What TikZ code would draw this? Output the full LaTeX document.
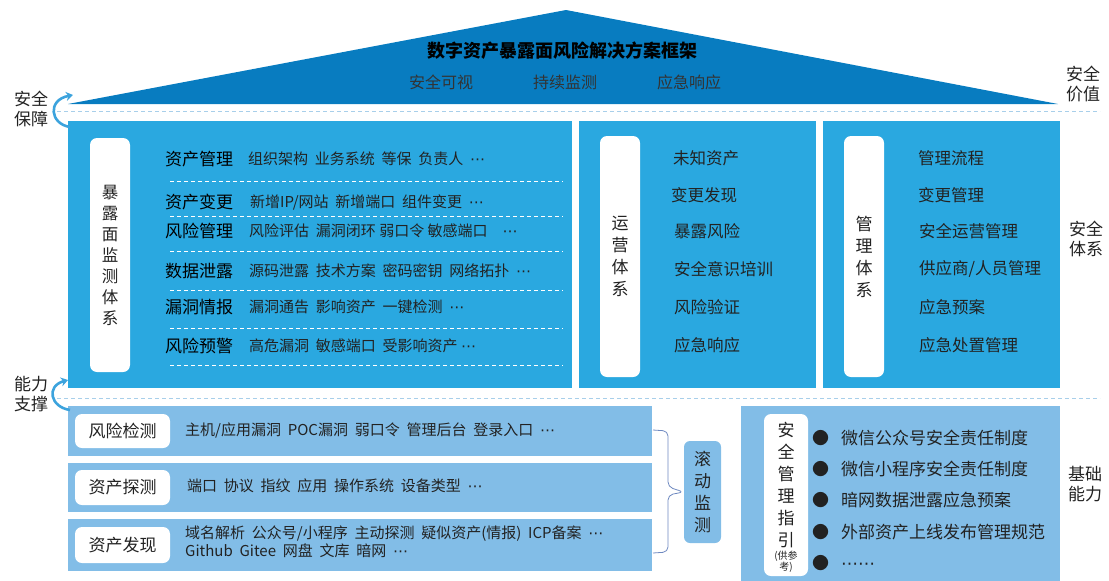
\documentclass[tikz,border=0pt]{standalone}
\usepackage{fontspec}
\setmainfont{Noto Sans CJK SC}
\newfontfamily\djv{DejaVu Sans}
\usetikzlibrary{arrows.meta}
\definecolor{roofblue}{HTML}{087CC0}
\definecolor{panelblue}{HTML}{2AA8E0}
\definecolor{lightblue}{HTML}{82BDE7}
\definecolor{arrowblue}{HTML}{3CA3DD}
\definecolor{dashblue}{HTML}{A8CFEA}
\definecolor{txt}{HTML}{222222}
\definecolor{subtxt}{HTML}{333333}
\definecolor{bracecol}{HTML}{6E89C0}
\newcommand\etcdots{{\djv ⋯}}
\newcommand\ig{\hspace{0.45em}}
\begin{document}
\begin{tikzpicture}[x=1pt,y=-1pt,
  panel/.style={fill=panelblue, draw=none, anchor=north west, inner sep=0pt},
  lpanel/.style={fill=lightblue, draw=none, anchor=north west, inner sep=0pt},
  wbox/.style={fill=white, draw=none, rounded corners=7pt, inner sep=0pt, align=center, text=txt},
  vtext/.style={align=center, inner sep=0pt, text=txt, font=\fontsize{17}{21.5}\selectfont},
  item/.style={anchor=west, inner sep=0pt, text=txt, font=\fontsize{15}{18}\selectfont},
  mitem/.style={anchor=west, inner sep=0pt, text=txt, font=\fontsize{16.5}{20}\selectfont},
  head/.style={anchor=west, inner sep=0pt, text=black, font=\fontsize{17}{20}\selectfont},
  side/.style={align=center, inner sep=0pt, text=txt, font=\fontsize{17}{20.5}\selectfont},
  dashline/.style={draw=dashblue, line width=1pt, dash pattern=on 4pt off 3pt},
  wdash/.style={draw=white, line width=0.9pt, dash pattern=on 4pt off 3pt},
  carrow/.style={draw=arrowblue, line width=2.6pt, -{Stealth[length=7pt,width=9pt]}},
  bracestyle/.style={draw=bracecol, line width=0.8pt, rounded corners=5pt},
  bullet/.style={anchor=west, inner sep=0pt, text=txt, font=\fontsize{17}{20}\selectfont}
]
\useasboundingbox (0,0) rectangle (1109,581);

% roof
\fill[roofblue] (68,104) -- (566,10) -- (1058,104) -- cycle;
\node[inner sep=0pt, font=\bfseries\fontsize{18}{20}\selectfont, text=black] (title) at (562,51) {数字资产暴露面风险解决方案框架};
\node[inner sep=0pt, font=\fontsize{16}{18}\selectfont, text=subtxt] (v1) at (441,82) {安全可视};
\node[inner sep=0pt, font=\fontsize{16}{18}\selectfont, text=subtxt] (v2) at (565,82) {持续监测};
\node[inner sep=0pt, font=\fontsize{16}{18}\selectfont, text=subtxt] (v3) at (689,82) {应急响应};

% dashed separators
\coordinate (d1a) at (57,111); \coordinate (d1b) at (1100,111);
\coordinate (d2a) at (57,398); \coordinate (d2b) at (1100,398);
\draw[dashline] (d1a) -- (d1b);
\draw[dashline] (d2a) -- (d2b);

% main panels
\node[panel, minimum width=504pt, minimum height=267pt] (lp) at (68,121) {};
\node[panel, minimum width=237pt, minimum height=267pt] (mp) at (579,121) {};
\node[panel, minimum width=237pt, minimum height=267pt] (rp) at (823,121) {};

% vertical white boxes
\node[wbox, minimum width=40pt, minimum height=234pt, font=\fontsize{16.5}{21}\selectfont] (lbox) at (110,255) {暴\\露\\面\\监\\测\\体\\系};
\node[wbox, minimum width=40pt, minimum height=241pt, font=\fontsize{17}{22}\selectfont] (mbox) at (620,256.5) {运\\营\\体\\系};
\node[wbox, minimum width=40pt, minimum height=241pt, font=\fontsize{17}{22}\selectfont] (rbox) at (864,256.5) {管\\理\\体\\系};

% left panel rows
\node[head] (h1) at (165,159) {资产管理};
\node[item] (i1) at (248,159) {组织架构\ig 业务系统\ig 等保\ig 负责人\ig \etcdots};
\node[head] (h2) at (165,202) {资产变更};
\node[item] (i2) at (250,202) {新增IP/网站\ig 新增端口\ig 组件变更\ig \etcdots};
\node[head] (h3) at (165,231) {风险管理};
\node[item] (i3) at (249,231) {风险评估\ig 漏洞闭环 弱口令 敏感端口\hspace{1em}\etcdots};
\node[head] (h4) at (165,271) {数据泄露};
\node[item] (i4) at (249,271) {源码泄露\ig 技术方案\ig 密码密钥\ig 网络拓扑\ig \etcdots};
\node[head] (h5) at (165,307) {漏洞情报};
\node[item] (i5) at (249,307) {漏洞通告\ig 影响资产\ig 一键检测\ig \etcdots};
\node[head] (h6) at (165,346) {风险预警};
\node[item] (i6) at (249,346) {高危漏洞\ig 敏感端口\ig 受影响资产 \etcdots};
\foreach \yy/\nm in {181/a,216/b,251/c,290/d,328/e,365/f}{
  \coordinate (wl\nm) at (170,\yy); \coordinate (wr\nm) at (563,\yy);
  \draw[wdash] (wl\nm) -- (wr\nm);
}

% middle panel items
\node[mitem] (m1) at (673,158) {未知资产};
\node[mitem] (m2) at (671,195) {变更发现};
\node[mitem] (m3) at (674,231) {暴露风险};
\node[mitem] (m4) at (674,269) {安全意识培训};
\node[mitem] (m5) at (674,307) {风险验证};
\node[mitem] (m6) at (674,345) {应急响应};

% right panel items
\node[mitem] (r1) at (918,158) {管理流程};
\node[mitem] (r2) at (918,195) {变更管理};
\node[mitem] (r3) at (919,231) {安全运营管理};
\node[mitem] (r4) at (919,269) {供应商/人员管理};
\node[mitem] (r5) at (919,307) {应急预案};
\node[mitem] (r6) at (919,345) {应急处置管理};

% bottom left rows
\node[lpanel, minimum width=584pt, minimum height=50pt] (b1) at (68,406) {};
\node[lpanel, minimum width=584pt, minimum height=49pt] (b2) at (68,463) {};
\node[lpanel, minimum width=584pt, minimum height=52pt] (b3) at (68,519) {};
\node[wbox, minimum width=95pt, minimum height=34pt, font=\fontsize{17}{20}\selectfont] (k1) at (122.5,431) {风险检测};
\node[wbox, minimum width=95pt, minimum height=35pt, font=\fontsize{17}{20}\selectfont] (k2) at (122.5,487.5) {资产探测};
\node[wbox, minimum width=95pt, minimum height=36pt, font=\fontsize{17}{20}\selectfont] (k3) at (122.5,545) {资产发现};
\node[item] (t1) at (185,430) {主机/应用漏洞\ig POC漏洞\ig 弱口令\ig 管理后台\ig 登录入口\ig \etcdots};
\node[item] (t2) at (187,486) {端口\ig 协议\ig 指纹\ig 应用\ig 操作系统\ig 设备类型\ig \etcdots};
\node[item, align=left] (t3) at (185,542) {域名解析\ig 公众号/小程序\ig 主动探测\ig 疑似资产(情报)\ig ICP备案\ig \etcdots\\Github\ig Gitee\ig 网盘\ig 文库\ig 暗网\ig \etcdots};

% rolling monitor box and brace
\node[wbox, fill=lightblue, rounded corners=6pt, minimum width=37pt, minimum height=102pt, font=\fontsize{17}{22}\selectfont] (roll) at (702.5,492) {滚\\动\\监\\测};
\coordinate (bt) at (653,430);
\coordinate (bb) at (653,553);
\draw[bracestyle] (bt) -- (668,431) -- (668,487) -- (roll.west) -- (668,495) -- (668,552) -- (bb);

% bottom right panel
\node[lpanel, minimum width=319pt, minimum height=175pt] (gp) at (741,406) {};
\node[wbox, minimum width=44pt, minimum height=162pt] (gbox) at (786,495) {};
\node[vtext, font=\fontsize{17}{22}\selectfont] (gtext) at (786,485) {安\\全\\管\\理\\指\\引};
\node[align=center, inner sep=0pt, text=txt, font=\fontsize{10}{11}\selectfont] (gnote) at (786,562) {(供参\\考)};
\node[bullet] (g1) at (812,438) {●\hspace{0.7em}微信公众号安全责任制度};
\node[bullet] (g2) at (812,469) {●\hspace{0.7em}微信小程序安全责任制度};
\node[bullet] (g3) at (812,500) {●\hspace{0.7em}暗网数据泄露应急预案};
\node[bullet] (g4) at (812,532) {●\hspace{0.7em}外部资产上线发布管理规范};
\node[bullet] (g5) at (812,563) {●\hspace{0.7em}\etcdots\etcdots};

% side labels
\node[side] (sl1) at (31,109) {安全\\保障};
\node[side] (sl2) at (31,394) {能力\\支撑};
\node[side] (sr1) at (1083,84) {安全\\价值};
\node[side] (sr2) at (1086,239) {安全\\体系};
\node[side] (sr3) at (1085,484) {基础\\能力};

% curved arrows
\coordinate (a1s) at (70,127); \coordinate (a1e) at (73,95);
\draw[carrow] (a1s) .. controls (50,124) and (47,100) .. (a1e);
\coordinate (a2s) at (70,410); \coordinate (a2e) at (68,380);
\draw[carrow] (a2s) .. controls (50,407) and (46,386) .. (a2e);
\end{tikzpicture}
\end{document}
